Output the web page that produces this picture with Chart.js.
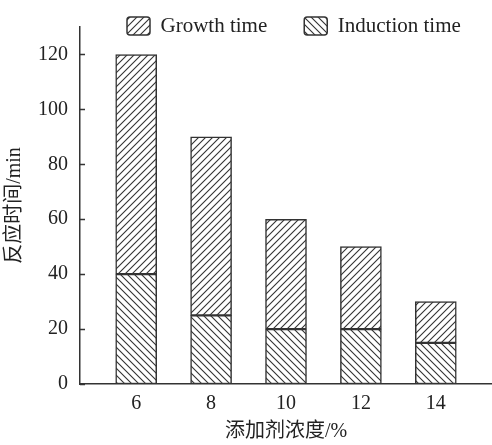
<!DOCTYPE html>
<html><head><meta charset="utf-8">
<script src="https://cdn.jsdelivr.net/npm/chart.js@4/dist/chart.umd.min.js"></script>
<style>html,body{margin:0;padding:0;background:#fff}#wrap{width:492px;height:445px;position:relative}</style>
</head><body><div id="wrap"><canvas id="c"></canvas></div>
<script>
const concentrations = [6, 8, 10, 12, 14];
const inductionTime = [40, 25, 20, 20, 15];
const growthTime = [80, 65, 40, 30, 15];
const yTicks = [0, 20, 40, 60, 80, 100, 120];
const seriesNames = ['Growth time', 'Induction time'];
const xTitle = '添加剂浓度/%';
const yTitle = '反应时间/min';

const INK = '#333';
const ctx = document.getElementById('c').getContext('2d');
function hatch(dir) {
  const s = 7;
  const t = document.createElement('canvas');
  t.width = s; t.height = s;
  const g = t.getContext('2d');
  g.fillStyle = '#fff'; g.fillRect(0, 0, s, s);
  g.strokeStyle = INK; g.lineWidth = 1.1;
  g.beginPath();
  if (dir > 0) {
    g.moveTo(-1, s + 1); g.lineTo(s + 1, -1);
    g.moveTo(-1, 1); g.lineTo(1, -1);
    g.moveTo(s - 1, s + 1); g.lineTo(s + 1, s - 1);
  } else {
    g.moveTo(-1, -1); g.lineTo(s + 1, s + 1);
    g.moveTo(-1, s - 1); g.lineTo(1, s + 1);
    g.moveTo(s - 1, -1); g.lineTo(s + 1, 1);
  }
  g.stroke();
  return ctx.createPattern(t, 'repeat');
}

const serif = '"Liberation Serif", "Noto Sans CJK SC", serif';
const LEG_FONT = 21;
const LEG_PAD = 37;
const LEG_BOX_H = 18;

const legendPlace = {
  id: 'legendPlace',
  afterLayout(chart) {
    const L = chart.legend;
    const p = L.options.labels.padding;
    const w = L.width, h = L.height;
    L.left = 127 - p; L.right = L.left + w;
    L.top = 17 - p - (LEG_FONT - LEG_BOX_H) / 2; L.bottom = L.top + h;
  }
};

const inwardTicks = {
  id: 'inwardTicks',
  afterDraw(chart) {
    const y = chart.scales.y;
    const c = chart.ctx;
    c.save();
    c.strokeStyle = INK; c.lineWidth = 1.5;
    c.beginPath();
    y.ticks.forEach(t => {
      const py = Math.round(y.getPixelForValue(t.value)) + 0.5;
      c.moveTo(y.right, py); c.lineTo(y.right + 5, py);
    });
    c.stroke();
    c.restore();
  }
};

new Chart(ctx, {
  type: 'bar',
  data: {
    datasets: [
      {
        label: seriesNames[1],
        data: inductionTime.map((y, i) => ({x: concentrations[i], y})),
        backgroundColor: hatch(-1),
        borderColor: INK, borderWidth: 1.5, borderSkipped: false,
        barThickness: 41
      },
      {
        label: seriesNames[0],
        data: growthTime.map((y, i) => ({x: concentrations[i], y})),
        backgroundColor: hatch(1),
        borderColor: INK, borderWidth: 1.5, borderSkipped: false,
        barThickness: 41
      }
    ]
  },
  options: {
    responsive: true,
    maintainAspectRatio: false,
    animation: false,
    devicePixelRatio: 1,
    layout: {padding: {top: 27 - (LEG_FONT + LEG_PAD + 10), right: 0, left: 0, bottom: 0}},
    plugins: {
      tooltip: {enabled: false},
      legend: {
        position: 'top', align: 'start',
        labels: {
          font: {family: serif, size: LEG_FONT}, color: '#222',
          boxWidth: 23, boxHeight: LEG_BOX_H, useBorderRadius: true, borderRadius: 3,
          padding: LEG_PAD,
          sort: (a, b) => b.datasetIndex - a.datasetIndex
        }
      }
    },
    scales: {
      x: {
        type: 'linear', stacked: true, min: 4.5, max: 15.5, offset: false,
        afterBuildTicks: s => { s.ticks = concentrations.map(v => ({value: v})); },
        afterFit: s => { s.height = 61; },
        grid: {display: false, drawTicks: false},
        border: {display: true, color: INK, width: 1.5},
        ticks: {font: {family: serif, size: 20}, color: '#222', padding: 8, autoSkip: false, maxRotation: 0},
        title: {display: true, text: xTitle, font: {family: serif, size: 20}, color: '#222', padding: {top: 0, bottom: 1}}
      },
      y: {
        stacked: true, min: 0, max: 130,
        afterBuildTicks: s => { s.ticks = yTicks.map(v => ({value: v})); },
        afterFit: s => { s.width = 80; },
        grid: {display: false, drawTicks: false},
        border: {display: true, color: INK, width: 1.5},
        ticks: {font: {family: serif, size: 20}, color: '#222', padding: 12},
        title: {display: true, text: yTitle, font: {family: serif, size: 20}, color: '#222', padding: {top: 3, bottom: 0}}
      }
    }
  },
  plugins: [legendPlace, inwardTicks]
});
</script>
</body></html>
